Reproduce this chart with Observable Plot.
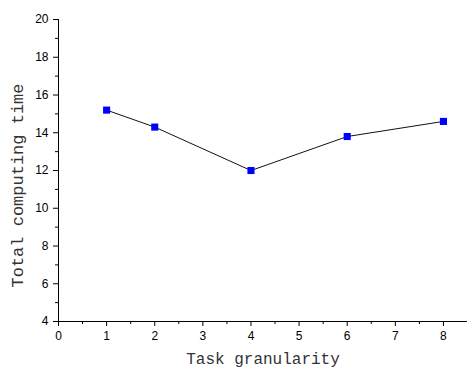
<!DOCTYPE html>
<html>
<head>
<meta charset="utf-8">
<script src="https://cdn.jsdelivr.net/npm/d3@7"></script>
<script src="https://cdn.jsdelivr.net/npm/@observablehq/plot@0.6"></script>
<style>
  html, body { margin: 0; padding: 0; background: #fff; }
  #chart svg { display: block; }
</style>
</head>
<body>
<div id="chart"></div>
<script>
const granularity = [1, 2, 4, 6, 8];
const computingTime = [15.2, 14.3, 12.0, 13.8, 14.6];
const xTicks = [0, 1, 2, 3, 4, 5, 6, 7, 8];
const yTicks = [4, 6, 8, 10, 12, 14, 16, 18, 20];
const xMinorTicks = [0.5, 1.5, 2.5, 3.5, 4.5, 5.5, 6.5, 7.5, 8.5];
const yMinorTicks = [5, 7, 9, 11, 13, 15, 17, 19];
const xTitle = "Task granularity";
const yTitle = "Total computing time";

const data = granularity.map((g, i) => ({g, t: computingTime[i]}));

const tickFont = "Liberation Sans, Arial, sans-serif";
const titleFont = "Liberation Mono, DejaVu Sans Mono, monospace";

const chart = Plot.plot({
  width: 467,
  height: 370,
  marginLeft: 58,
  marginRight: 0,
  marginTop: 19,
  marginBottom: 49,
  style: {fontFamily: tickFont, fontSize: "12px", color: "#000", background: "#fff"},
  x: {domain: [0, 8.5]},
  y: {domain: [4, 20]},
  marks: [
    Plot.ruleY([4], {stroke: "#000", strokeWidth: 1}),
    Plot.ruleX([0], {stroke: "#000", strokeWidth: 1}),
    Plot.axisX({ticks: xTicks, tickSize: 5, tickPadding: 5, label: null, stroke: "#000", fill: "#000", tickFormat: d => d}),
    Plot.axisX({ticks: xMinorTicks, tickSize: 3, tickFormat: () => "", label: null, stroke: "#000"}),
    Plot.axisY({ticks: yTicks, tickSize: 5, tickPadding: 5, label: null, stroke: "#000", fill: "#000", tickFormat: d => d}),
    Plot.axisY({ticks: yMinorTicks, tickSize: 3, tickFormat: () => "", label: null, stroke: "#000"}),
    Plot.line(data, {x: "g", y: "t", stroke: "#111", strokeWidth: 1}),
    Plot.dot(data, {x: "g", y: "t", symbol: "square", r: 4, fill: "#0000ff", stroke: "none"}),
    Plot.text([xTitle], {frameAnchor: "bottom", dy: 42, text: d => d, fontFamily: titleFont, fontSize: 16, fill: "#333", textAnchor: "middle"}),
    Plot.text([yTitle], {frameAnchor: "left", dx: -41, dy: 15, rotate: -90, text: d => d, fontFamily: titleFont, fontSize: 17, fill: "#333", textAnchor: "middle"})
  ]
});
document.getElementById("chart").appendChild(chart);
</script>
</body>
</html>
